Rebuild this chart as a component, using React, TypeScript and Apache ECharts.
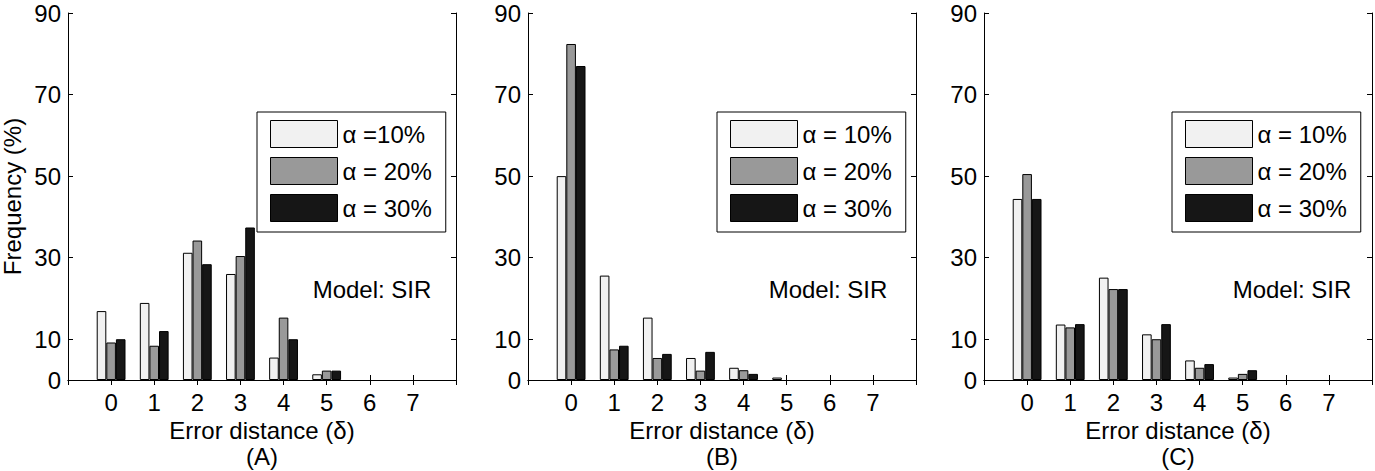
import React, { useEffect, useRef } from "react";
import * as echarts from "echarts";

const categories = ["0", "1", "2", "3", "4", "5", "6", "7"];
const yTicks = [0, 10, 30, 50, 70, 90];

const panelA10 = [16.9, 18.9, 31.2, 26.0, 5.5, 1.4, 0, 0];
const panelA20 = [9.2, 8.4, 34.2, 30.4, 15.3, 2.3, 0, 0];
const panelA30 = [10.0, 12.0, 28.4, 37.4, 10.0, 2.3, 0, 0];

const panelB10 = [50.0, 25.6, 15.3, 5.4, 3.0, 0.6, 0, 0];
const panelB20 = [82.4, 7.5, 5.4, 2.3, 2.4, 0, 0, 0];
const panelB30 = [77.0, 8.4, 6.4, 6.9, 1.5, 0, 0, 0];

const panelC10 = [44.4, 13.6, 25.1, 11.2, 4.8, 0.6, 0, 0];
const panelC20 = [50.5, 12.9, 22.3, 10.0, 3.0, 1.5, 0, 0];
const panelC30 = [44.4, 13.7, 22.3, 13.7, 3.9, 2.4, 0, 0];

const namesA = ["α =10%", "α = 20%", "α = 30%"];
const namesBC = ["α = 10%", "α = 20%", "α = 30%"];
const panelLabels = ["(A)", "(B)", "(C)"];
const modelText = "Model: SIR";

const FONT = "'Liberation Sans', Arial, Helvetica, sans-serif";
const FS = 24;
const fills = ["#f1f1f1", "#999999", "#161616"];

export default function App() {
  const ref = useRef<HTMLDivElement>(null);
  useEffect(() => {
    if (!ref.current) return;
    const chart = echarts.init(ref.current, undefined, { renderer: "svg" });
    const panels = [
      { left: 68, data: [panelA10, panelA20, panelA30], names: namesA, legendLeft: 257, modelX: 372 },
      { left: 528, data: [panelB10, panelB20, panelB30], names: namesBC, legendLeft: 717, modelX: 828 },
      { left: 984, data: [panelC10, panelC20, panelC30], names: namesBC, legendLeft: 1172, modelX: 1292 },
    ];
    const cats = ["", ...categories, ""];
    const grid: any[] = [];
    const xAxis: any[] = [];
    const yAxis: any[] = [];
    const series: any[] = [];
    const legend: any[] = [];
    const graphic: any[] = [];
    const axisLine = { show: true, lineStyle: { color: "#000", width: 1 } };
    panels.forEach((p, i) => {
      grid.push({ left: p.left, top: 13, width: 388, height: 367, containLabel: false, outerBoundsMode: "none" });
      xAxis.push({
        type: "category",
        gridIndex: i,
        data: cats,
        boundaryGap: false,
        position: "bottom",
        axisLine,
        axisTick: { show: true, inside: true, length: 5, interval: 0, lineStyle: { color: "#000" } },
        axisLabel: { interval: 0, color: "#000", fontSize: FS, fontFamily: FONT, margin: 10 },
        name: "Error distance (δ)",
        nameLocation: "middle",
        nameGap: 38,
        nameTextStyle: { color: "#000", fontSize: FS, fontFamily: FONT },
        splitLine: { show: false },
      });
      yAxis.push({
        type: "value",
        gridIndex: i,
        min: 0,
        max: 90,
        position: "left",
        axisLine,
        axisTick: { show: true, inside: true, length: 5, customValues: yTicks, lineStyle: { color: "#000" } },
        axisLabel: { color: "#000", fontSize: FS, fontFamily: FONT, margin: 7, lineHeight: 20, customValues: yTicks },
        splitLine: { show: false },
        name: i === 0 ? "Frequency (%)" : "",
        nameLocation: "middle",
        nameGap: 44,
        nameRotate: 90,
        nameTextStyle: { color: "#000", fontSize: FS, fontFamily: FONT },
      });
      p.data.forEach((vals, k) => {
        series.push({
          type: "bar",
          name: p.names[k],
          xAxisIndex: i,
          yAxisIndex: i,
          data: [null, ...vals.map((v) => (v === 0 ? null : v)), null],
          barWidth: 9.6,
          barGap: "0%",
          itemStyle: { color: fills[k], borderColor: "#000", borderWidth: 1 },
          emphasis: { disabled: true },
        });
      });
      legend.push({
        data: p.names,
        orient: "vertical",
        left: p.legendLeft,
        top: 112,
        itemWidth: 67,
        itemHeight: 27,
        itemGap: 9,
        padding: [8, 14, 10, 13],
        borderColor: "#000",
        borderWidth: 1,
        backgroundColor: "#fff",
        icon: "rect",
        selectedMode: false,
        itemStyle: { borderColor: "#000", borderWidth: 1 },
        textStyle: { color: "#000", fontSize: FS, fontFamily: FONT },
      });
      graphic.push({
        type: "text",
        x: p.modelX,
        y: 289,
        style: {
          text: modelText,
          fill: "#000",
          fontSize: FS,
          fontFamily: FONT,
          align: "center",
          verticalAlign: "middle",
        },
      });
      graphic.push({
        type: "text",
        x: p.left + 194,
        y: 456,
        style: {
          text: panelLabels[i],
          fill: "#000",
          fontSize: FS,
          fontFamily: FONT,
          align: "center",
          verticalAlign: "middle",
        },
      });
    });
    panels.forEach((p, i) => {
      xAxis.push({
        type: "category",
        gridIndex: i,
        data: cats,
        boundaryGap: false,
        position: "top",
        axisLine,
        axisTick: { show: true, inside: true, length: 5, interval: 0, lineStyle: { color: "#000" } },
        axisLabel: { show: false },
        splitLine: { show: false },
      });
      yAxis.push({
        type: "value",
        gridIndex: i,
        min: 0,
        max: 90,
        position: "right",
        axisLine,
        axisTick: { show: true, inside: true, length: 5, customValues: yTicks, lineStyle: { color: "#000" } },
        axisLabel: { show: false, customValues: yTicks },
        splitLine: { show: false },
      });
    });
    chart.setOption({
      animation: false,
      backgroundColor: "#fff",
      textStyle: { fontFamily: FONT },
      grid,
      xAxis,
      yAxis,
      series,
      legend,
      graphic,
    });
    return () => chart.dispose();
  }, []);
  return (
    <div
      ref={ref}
      style={{ position: "fixed", left: 0, top: 0, width: 1375, height: 471, background: "#fff" }}
    />
  );
}
